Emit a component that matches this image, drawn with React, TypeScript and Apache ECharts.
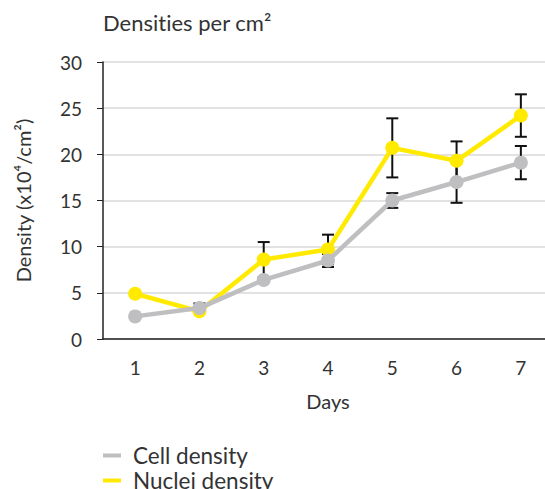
import React, { useEffect, useRef } from "react";
import * as echarts from "echarts";

const days = ["1", "2", "3", "4", "5", "6", "7"];
const cellDensity = [2.45, 3.35, 6.4, 8.5, 15.0, 17.0, 19.1];
const nucleiDensity = [4.9, 3.0, 8.6, 9.7, 20.7, 19.3, 24.2];
// error half-widths (null = no visible bar)
const cellError = [null, 0.5, null, 0.7, 0.8, 2.25, 1.8];
const nucleiError = [null, null, 1.9, 1.6, 3.2, 2.1, 2.3];

const GRAY = "#bfbfc1";
const YELLOW = "#ffea00";
const FONT = "Lato";
const TEXT = "#333333";

function errData(vals: number[], errs: (number | null)[]) {
  const out: number[][] = [];
  vals.forEach((v, i) => {
    const e = errs[i];
    if (e != null) out.push([i, v - e, v + e]);
  });
  return out;
}

export default function App() {
  const ref = useRef<HTMLDivElement>(null);
  useEffect(() => {
    document.body.style.margin = "0";
    const chart = echarts.init(ref.current!, null, { renderer: "svg" });
    const renderErr = (params: any, api: any) => {
      const x = api.value(0);
      const lo = api.coord([x, api.value(1)]);
      const hi = api.coord([x, api.value(2)]);
      const w = 6;
      const style = { stroke: "#111", lineWidth: 2, fill: "none" };
      return {
        type: "group",
        children: [
          { type: "line", shape: { x1: lo[0], y1: lo[1], x2: hi[0], y2: hi[1] }, style },
          { type: "line", shape: { x1: lo[0] - w, y1: lo[1], x2: lo[0] + w, y2: lo[1] }, style },
          { type: "line", shape: { x1: hi[0] - w, y1: hi[1], x2: hi[0] + w, y2: hi[1] }, style },
        ],
      };
    };
    const legendText = { fontFamily: FONT, fontSize: 22.5, color: TEXT, lineHeight: 22, padding: [0, 0, 0, 7] };
    chart.setOption({
      animation: false,
      title: {
        text: "Densities per cm²",
        left: 103,
        top: 11,
        padding: 0,
        textStyle: { fontFamily: FONT, fontSize: 22, fontWeight: "normal", color: TEXT },
      },
      legend: [
        {
          left: 103,
          top: 444,
          padding: 0,
          itemWidth: 18,
          itemHeight: 4,
          icon: "rect",
          data: ["Cell density"],
          textStyle: legendText,
        },
        {
          left: 103,
          top: 469,
          padding: 0,
          itemWidth: 18,
          itemHeight: 4,
          icon: "rect",
          data: ["Nuclei density"],
          textStyle: legendText,
        },
      ],
      grid: { left: 103, top: 62, width: 450, height: 277 },
      xAxis: {
        type: "category",
        data: days,
        name: "Days",
        nameLocation: "middle",
        nameGap: 52,
        nameTextStyle: { fontFamily: FONT, fontSize: 20, color: TEXT },
        axisLine: { lineStyle: { color: "#222", width: 1.5 } },
        axisTick: { length: 6, lineStyle: { color: "#222" } },
        axisLabel: { fontFamily: FONT, fontSize: 19, color: TEXT, margin: 19 },
      },
      yAxis: {
        type: "value",
        min: 0,
        max: 30,
        interval: 5,
        name: "Density (x10⁴/cm²)",
        nameLocation: "middle",
        nameGap: 70,
        nameTextStyle: { fontFamily: FONT, fontSize: 20, color: TEXT },
        axisLine: { show: true, lineStyle: { color: "#222", width: 1.5 } },
        axisTick: { show: true, length: 6, lineStyle: { color: "#222" } },
        axisLabel: { fontFamily: FONT, fontSize: 19, color: TEXT, margin: 21 },
        splitLine: { lineStyle: { color: "#d9d9d9", width: 1.5 } },
      },
      series: [
        {
          type: "custom",
          name: "nucErr",
          data: errData(nucleiDensity, nucleiError),
          renderItem: renderErr,
          z: 1,
          silent: true,
        },
        {
          type: "custom",
          name: "cellErr",
          data: errData(cellDensity, cellError),
          renderItem: renderErr,
          z: 1,
          silent: true,
        },
        {
          type: "line",
          name: "Nuclei density",
          data: nucleiDensity,
          symbol: "circle",
          symbolSize: 14,
          lineStyle: { color: YELLOW, width: 4.5 },
          itemStyle: { color: YELLOW },
          z: 3,
        },
        {
          type: "line",
          name: "Cell density",
          data: cellDensity,
          symbol: "circle",
          symbolSize: 14,
          lineStyle: { color: GRAY, width: 4.5 },
          itemStyle: { color: GRAY },
          z: 4,
        },
      ],
    });
    return () => chart.dispose();
  }, []);
  return (
    <div style={{ width: 545, height: 489, overflow: "hidden", position: "relative" }}>
      <style>{"svg text { font-variant-ligatures: none; font-feature-settings: 'liga' 0; }"}</style>
      <div ref={ref} style={{ width: 570, height: 489 }} />
    </div>
  );
}
